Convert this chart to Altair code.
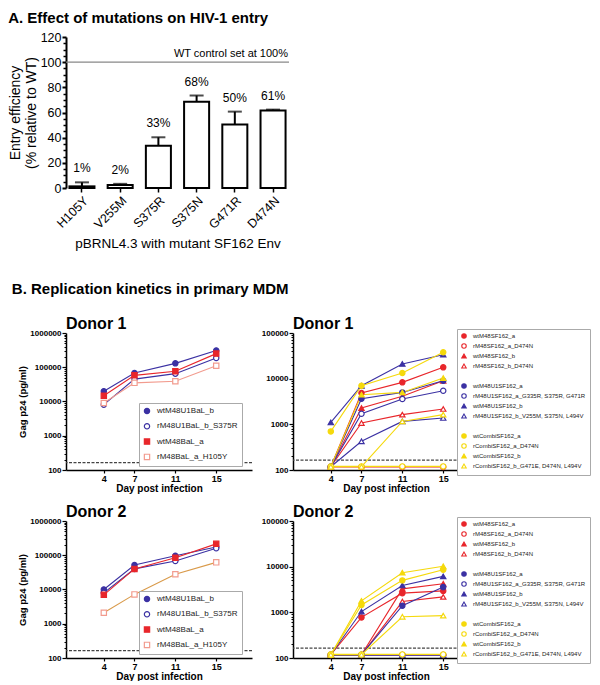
import altair as alt
import pandas as pd

FONT = "Liberation Sans"

# ---------------- Panel A: entry efficiency ----------------
mutations = ["H105Y", "V255M", "S375R", "S375N", "G471R", "D474N"]
entry_mean = [1.3, 2.3, 33.5, 68.5, 50.5, 61.5]
entry_err = [3.2, 1.0, 6.8, 5.0, 10.2, 0.8]
entry_text = ["1%", "2%", "33%", "68%", "50%", "61%"]
wt_reference = [100]
wt_reference_text = ["WT control set at 100%"]
entry_major_ticks = [0, 20, 40, 60, 80, 100, 120]
entry_minor_ticks = [v for v in range(0, 121, 5) if v % 20 != 0]

# ---------------- Panel B: replication kinetics ----------------
days = [4, 7, 11, 15]
detection_limit = [165]

bal_series = ["wtM48U1BaL_b", "rM48U1BaL_b_S375R", "wtM48BaL_a", "rM48BaL_a_H105Y"]
bal_shapes = ["circle", "circle", "square", "square"]
bal_fills = ["#3b31a3", "white", "#e8262b", "white"]
bal_marker_colors = ["#3b31a3", "#3b31a3", "#e8262b", "#f29b8e"]
bal_line_colors_d1 = ["#3b31a3", "#3b31a3", "#e8262b", "#f29b8e"]
bal_line_colors_d2 = ["#3b31a3", "#3b31a3", "#e8262b", "#d99a4a"]

d1_bal_values = [
    [20000, 68000, 130000, 310000],
    [8100, 45000, 65000, 186000],
    [14800, 58000, 76000, 250000],
    [9000, 35000, 39000, 111000],
]
d2_bal_values = [
    [10000, 52000, 97000, 175000],
    [8000, 40000, 68000, 160000],
    [7000, 40000, 85000, 215000],
    [2100, 7200, 28000, 62000],
]

sf_series = [
    "wtM48SF162_a", "rM48SF162_a_D474N", "wtM48SF162_b", "rM48SF162_b_D474N",
    "wtM48U1SF162_a", "rM48U1SF162_a_G335R, S375R, G471R",
    "wtM48U1SF162_b", "rM48U1SF162_b_V255M, S375N, L494V",
    "wtCombiSF162_a", "rCombiSF162_a_D474N", "wtCombiSF162_b",
    "rCombiSF162_b_G471E, D474N, L494V",
]
sf_group_colors = ["#e8262b"] * 4 + ["#3b31a3"] * 4 + ["#f5d90c"] * 4
sf_shapes = ["circle", "circle", "triangle-up", "triangle-up"] * 3
sf_open = [False, True, False, True] * 3

d1_sf_values = [
    [118, 4850, 8300, 17700],
    [116, 116, 116, 116],
    [118, 2280, 4100, 9000],
    [118, 1070, 1630, 2170],
    [118, 3650, 5000, 9000],
    [118, 1710, 3590, 5450],
    [1100, 7000, 21000, 33500],
    [118, 425, 1160, 1380],
    [700, 7000, 13300, 37800],
    [120, 120, 120, 120],
    [118, 4450, 5000, 10300],
    [118, 118, 1160, 1630],
]
d2_sf_values = [
    [118, 775, 2630, 2950],
    [116, 116, 116, 116],
    [118, 118, 3270, 4220],
    [118, 118, 1720, 2180],
    [118, 118, 1400, 3570],
    [116, 116, 116, 116],
    [118, 1040, 3880, 6130],
    [116, 116, 116, 116],
    [118, 1450, 5010, 8600],
    [120, 120, 120, 120],
    [118, 1780, 7380, 10200],
    [118, 118, 800, 845],
]

# blank entries separate the three groups in the legend
sf_legend_domain = sf_series[:4] + [" "] + sf_series[4:8] + ["  "] + sf_series[8:]


def with_gaps(vals, gap):
    return vals[:4] + [gap] + vals[4:8] + [gap] + vals[8:]


sf_stroke_range = with_gaps(sf_group_colors, "transparent")
sf_fill_range = with_gaps(["white" if o else c for o, c in zip(sf_open, sf_group_colors)], "transparent")
sf_shape_range = with_gaps(sf_shapes, "circle")


def long_frame(series, values):
    rows = []
    for s, vals in zip(series, values):
        for d, v in zip(days, vals):
            rows.append({"series": s, "line_key": s + "~line", "day": d, "p24": v})
    return pd.DataFrame(rows)


# ---------------- Panel A chart ----------------
bar_df = pd.DataFrame({
    "mutation": mutations,
    "mean": entry_mean,
    "upper": [m + e for m, e in zip(entry_mean, entry_err)],
    "label": entry_text,
})
xband = alt.Scale(domain=mutations, paddingInner=0.345, paddingOuter=0.09)
y_entry = alt.Scale(domain=[0, 120], nice=False)
x_noaxis = alt.X("mutation:N", scale=xband, sort=mutations, axis=None)

bars = alt.Chart(bar_df).mark_bar(fill="white", stroke="black", strokeWidth=2).encode(
    x=alt.X("mutation:N", scale=xband, sort=mutations,
            axis=alt.Axis(title="pBRNL4.3 with mutant SF162 Env", labelAngle=-45,
                          labelFontSize=12.5, titleFontSize=13.5, titleFontWeight="normal",
                          domain=False, tickSize=4, tickWidth=1.5, labelPadding=2,
                          titlePadding=6, orient="bottom")),
    y=alt.Y("mean:Q", scale=y_entry,
            axis=alt.Axis(values=entry_major_ticks, title=["Entry efficiency", "(% relative to WT)"],
                          titleFontSize=14, titleFontWeight="normal", labelFontSize=12.5,
                          domainWidth=2, tickWidth=2, tickSize=4, labelPadding=1,
                          titlePadding=2, orient="left")),
)
err_rule = alt.Chart(bar_df).mark_rule(strokeWidth=2, color="black").encode(
    x=x_noaxis, y=alt.Y("mean:Q", scale=y_entry, axis=None), y2="upper:Q")
err_cap = alt.Chart(bar_df).mark_tick(thickness=2, size=14, color="black").encode(
    x=x_noaxis, y=alt.Y("upper:Q", scale=y_entry, axis=None))
bar_text = alt.Chart(bar_df).mark_text(baseline="bottom", dy=-7, fontSize=12, font=FONT).encode(
    x=x_noaxis, y=alt.Y("upper:Q", scale=y_entry, axis=None), text="label:N")
wt_df = pd.DataFrame({"y": wt_reference, "t": wt_reference_text})
wt_rule = alt.Chart(wt_df).mark_rule(color="#888888", strokeWidth=1.2).encode(
    y=alt.Y("y:Q", scale=y_entry,
            axis=alt.Axis(values=entry_minor_ticks, labels=False, title=None, domain=False,
                          tickSize=3, tickWidth=1.5, orient="left")))
wt_text = alt.Chart(wt_df).mark_text(align="right", baseline="bottom", x="width", dx=-1, dy=-3,
                                     fontSize=11, font=FONT).encode(
    y=alt.Y("y:Q", scale=y_entry, axis=None), text="t:N")

panel_a = alt.layer(bars, err_rule, err_cap, bar_text, wt_rule, wt_text).resolve_axis(
    x="independent", y="independent").properties(
    width=223, height=151,
    title=alt.TitleParams("A. Effect of mutations on HIV-1 entry", anchor="start", frame="bounds",
                          fontSize=15, fontWeight="bold", font=FONT, offset=5))


# ---------------- Panel B charts ----------------
def kinetics(df, domain, line_colors, marker_colors, fills, shapes, ymax, title, y_title, legend):
    yscale = alt.Scale(type="log", domain=[100, ymax], nice=False)
    xscale = alt.Scale(domain=[0.3, 18.5], nice=False, zero=False)
    major = [10 ** k for k in range(2, 7) if 10 ** k <= ymax]
    minor = [m * 10 ** k for k in range(2, 6) for m in range(2, 10) if m * 10 ** k < ymax]
    y_axis = alt.Axis(values=major, format="d", title=y_title, titleFontSize=9.5,
                      titleFontWeight="bold", labelFontSize=8, labelFontWeight="bold",
                      tickSize=4, tickWidth=1.2, domainWidth=1.5, labelPadding=1,
                      titlePadding=2, orient="left")
    x_axis = alt.Axis(values=days, title="Day post infection", titleFontSize=10,
                      titleFontWeight="bold", labelFontSize=9, labelFontWeight="bold",
                      tickSize=3, tickWidth=1.2, domainWidth=1.5, labelPadding=1,
                      titlePadding=0, labelFlush=False, orient="bottom")
    cutoff = alt.Chart(pd.DataFrame({"lim": detection_limit})).mark_rule(
        strokeDash=[3, 1.5], color="#444444", strokeWidth=1.2).encode(
        y=alt.Y("lim:Q", scale=yscale,
                axis=alt.Axis(values=minor, labels=False, title=None, domain=False,
                              tickSize=2, tickWidth=1, orient="left")))
    line_domain = [d + "~line" for d in domain]
    lines = alt.Chart(df).mark_line(strokeWidth=1.1).encode(
        x=alt.X("day:Q", scale=xscale, axis=x_axis),
        y=alt.Y("p24:Q", scale=yscale, axis=y_axis),
        color=alt.Color("line_key:N", scale=alt.Scale(domain=line_domain, range=line_colors),
                        legend=None),
        detail="series:N",
    )
    points = alt.Chart(df).mark_point(size=28, strokeWidth=1.2, opacity=1).encode(
        x=alt.X("day:Q", scale=xscale, axis=None),
        y=alt.Y("p24:Q", scale=yscale, axis=None),
        shape=alt.Shape("series:N", scale=alt.Scale(domain=domain, range=shapes), legend=legend),
        stroke=alt.Stroke("series:N", scale=alt.Scale(domain=domain, range=marker_colors), legend=legend),
        fill=alt.Fill("series:N", scale=alt.Scale(domain=domain, range=fills), legend=legend),
    )
    return alt.layer(cutoff, lines, points).resolve_axis(
        x="independent", y="independent").properties(
        width=186, height=137,
        title=alt.TitleParams(title, anchor="start", frame="group", fontSize=16,
                              fontWeight="bold", font=FONT, offset=-3))


def left_legend():
    return alt.Legend(title=None, orient="none", legendX=73, legendY=70, offset=0,
                      fillColor="white", strokeColor="#aaaaaa", padding=4, labelFontSize=8,
                      labelFont=FONT, labelColor="#222222", symbolSize=28,
                      symbolStrokeWidth=1.2, rowPadding=3.3, labelOffset=6)


def right_legend():
    return alt.Legend(title=None, orient="none", legendX=164, legendY=-4, offset=0,
                      fillColor="white", strokeColor="#aaaaaa", padding=4, labelFontSize=6,
                      labelFont=FONT, labelColor="#222222", symbolSize=20,
                      symbolStrokeWidth=1.1, rowPadding=0, labelOffset=6, labelLimit=220)


d1_left = kinetics(long_frame(bal_series, d1_bal_values), bal_series, bal_line_colors_d1,
                   bal_marker_colors, bal_fills, bal_shapes, 1000000, "Donor 1",
                   "Gag p24 (pg/ml)", left_legend())
d2_left = kinetics(long_frame(bal_series, d2_bal_values), bal_series, bal_line_colors_d2,
                   bal_marker_colors, bal_fills, bal_shapes, 1000000, "Donor 2",
                   "Gag p24 (pg/ml)", left_legend())
d1_right = kinetics(long_frame(sf_series, d1_sf_values), sf_legend_domain, sf_stroke_range,
                    sf_stroke_range, sf_fill_range, sf_shape_range, 100000, "Donor 1",
                    None, right_legend())
d2_right = kinetics(long_frame(sf_series, d2_sf_values), sf_legend_domain, sf_stroke_range,
                    sf_stroke_range, sf_fill_range, sf_shape_range, 100000, "Donor 2",
                    None, right_legend())

indep = dict(color="independent", shape="independent", stroke="independent", fill="independent")
row1 = alt.hconcat(d1_left, d1_right, spacing=8).resolve_scale(**indep).resolve_legend(**indep)
row2 = alt.hconcat(d2_left, d2_right, spacing=8).resolve_scale(**indep).resolve_legend(**indep)
panel_b = alt.vconcat(row1, row2, spacing=10, title=alt.TitleParams(
    "B. Replication kinetics in primary MDM", anchor="start", fontSize=15,
    fontWeight="bold", font=FONT, offset=19, dx=-6)).resolve_scale(**indep).resolve_legend(**indep)

chart = alt.vconcat(panel_a, panel_b, spacing=30).resolve_scale(**indep).resolve_legend(**indep).properties(
    padding={"left": 0, "top": 3, "right": 0, "bottom": 0}
).configure(font=FONT).configure_view(stroke=None).configure_axis(
    labelFont=FONT, titleFont=FONT, grid=False, domainColor="black", tickColor="black",
    labelColor="black", titleColor="black"
).configure_title(font=FONT, color="black")

chart.save("out.html", embed_options={"renderer": "svg", "actions": False})
